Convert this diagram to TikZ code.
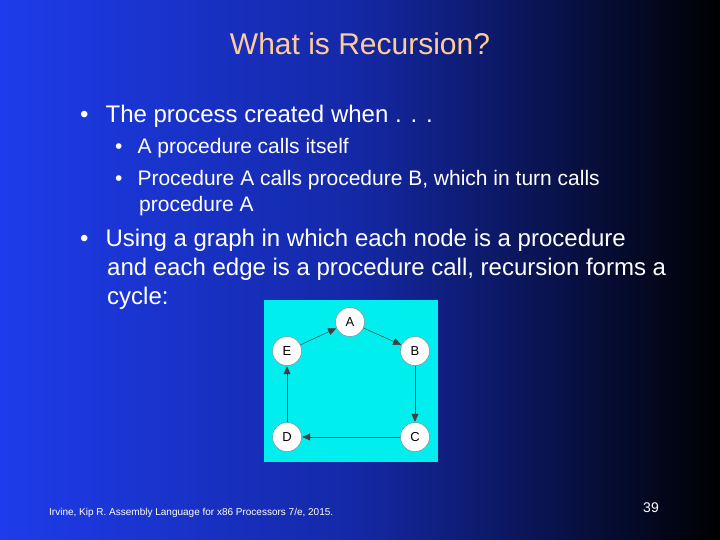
\documentclass[tikz,border=0pt]{standalone}
\usepackage{fontspec}
\setmainfont{Liberation Sans}
\usetikzlibrary{arrows.meta}
\definecolor{titlec}{RGB}{255,204,153}
\definecolor{cyanbox}{RGB}{0,238,238}
\begin{document}
\begin{tikzpicture}[x=1pt,y=-1pt,
  txt/.style={anchor=west,text=white,inner sep=0pt},
  vtx/.style={circle,draw=gray,fill=white,minimum size=29pt,inner sep=0pt,font=\fontsize{13}{15}\selectfont},
  edge/.style={draw=black!75,line width=0.5pt,-{Triangle[length=8pt,width=7pt]},shorten >=0.5pt}]
\shade[left color={rgb,255:red,30;green,60;blue,235},right color=black,middle color={rgb,255:red,20;green,40;blue,165}] (0,0) rectangle (720,540);
\useasboundingbox (0,0) rectangle (720,540);
\node[text=titlec,font=\fontsize{30}{34}\selectfont] (title) at (360,44) {What is Recursion?};
\node[txt,font=\fontsize{24}{28}\selectfont] (b1) at (80,116) {•\hspace{17pt}The process created when . . .};
\node[txt,font=\fontsize{21}{26}\selectfont] (s1) at (115,148) {•\hspace{15pt}A procedure calls itself};
\node[txt,font=\fontsize{21}{26}\selectfont] (s2) at (115,180) {•\hspace{15pt}Procedure A calls procedure B, which in turn calls};
\node[txt,font=\fontsize{21}{26}\selectfont] (s2b) at (139,206) {procedure A};
\node[txt,font=\fontsize{24}{28}\selectfont] (b2) at (80,240) {•\hspace{17pt}Using a graph in which each node is a procedure};
\node[txt,font=\fontsize{24}{28}\selectfont] (b2b) at (107,269) {and each edge is a procedure call, recursion forms a};
\node[txt,font=\fontsize{24}{28}\selectfont] (b2c) at (107,298) {cycle:};
\fill[cyanbox] (264,300) rectangle (438,462);
\node[vtx] (A) at (350,322) {A};
\node[vtx] (B) at (415,351) {B};
\node[vtx] (C) at (415,437) {C};
\node[vtx] (D) at (287,437) {D};
\node[vtx] (E) at (287,351) {E};
\draw[edge] (A) -- (B);
\draw[edge] (B) -- (C);
\draw[edge] (C) -- (D);
\draw[edge] (D) -- (E);
\draw[edge] (E) -- (A);
\node[txt,font=\fontsize{10}{12}\selectfont] (foot) at (49,513) {Irvine, Kip R. Assembly Language for x86 Processors 7/e, 2015.};
\node[text=white,font=\fontsize{14}{16}\selectfont] (pg) at (651,508) {39};
\end{tikzpicture}
\end{document}
